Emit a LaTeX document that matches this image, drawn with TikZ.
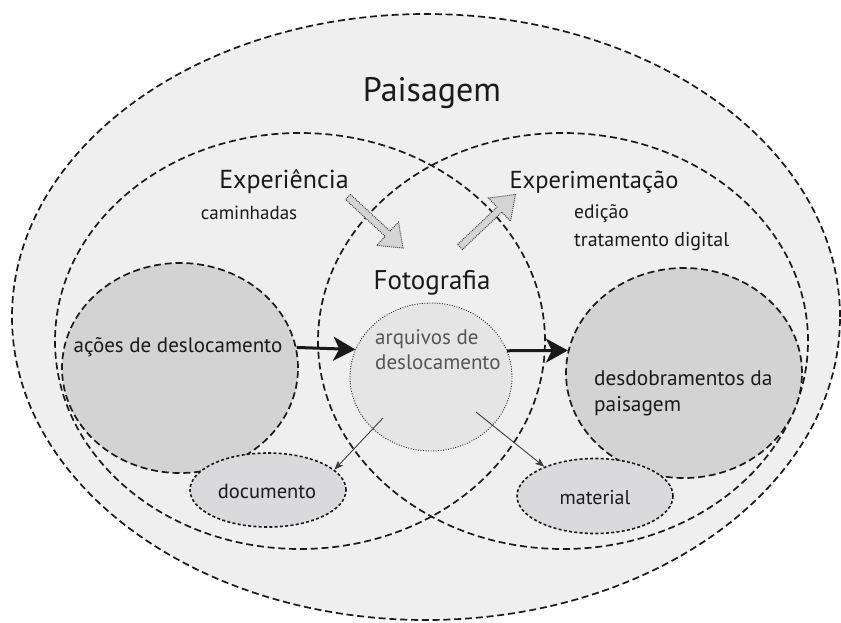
\documentclass[tikz,border=0pt]{standalone}
\usepackage{fontspec}
\setmainfont{PT Sans}
\usetikzlibrary{shapes.geometric,arrows.meta}
\definecolor{bg}{HTML}{EFEFEF}
\definecolor{darkfill}{HTML}{D3D3D3}
\definecolor{midfill}{HTML}{DADADC}
\definecolor{lightfill}{HTML}{E5E5E5}
\definecolor{ink}{HTML}{1A1A1A}
\definecolor{softink}{HTML}{555555}
\definecolor{hatchfill}{HTML}{D4D4D4}
\begin{document}
\begin{tikzpicture}[x=1pt,y=-1pt,
  bigring/.style={ellipse, draw=ink, line width=1.7pt, dash pattern=on 7pt off 3.8pt, inner sep=0pt},
  greyblob/.style={ellipse, draw=ink, fill=darkfill, line width=1.7pt, dash pattern=on 7pt off 3.8pt, inner sep=0pt},
  smallblob/.style={ellipse, draw=ink, fill=midfill, line width=1.6pt, dash pattern=on 3pt off 2.3pt, inner sep=0pt},
  dotring/.style={ellipse, draw=ink, fill=lightfill, line width=0.9pt, dash pattern=on 0.9pt off 1.6pt, inner sep=0pt},
  lbl/.style={inner sep=0pt, text=ink, anchor=base, font=\fontsize{21}{25}\selectfont},
  boldarrow/.style={line width=3pt, draw=ink, -{Stealth[length=22pt,width=24pt,inset=6pt]}},
  thinarrow/.style={line width=0.9pt, draw=ink!85, -{Stealth[length=9pt,width=7pt,inset=2pt]}},
  hatcharrow/.style={fill=hatchfill, draw=ink!80, line width=1pt, dash pattern=on 1pt off 1pt}
]
\fill[white] (0,0) rectangle (841,622);
\useasboundingbox (0,0) rectangle (841,622);

% rings
\node[bigring, fill=bg, minimum width=828pt, minimum height=606pt] (land) at (426,317) {};
\node[bigring, minimum width=490pt, minimum height=416pt] (exper) at (300,341) {};
\node[bigring, minimum width=490pt, minimum height=416pt] (experim) at (563,341) {};

% grey blobs
\node[greyblob, minimum width=236pt, minimum height=210pt] (acoes) at (180,368) {};
\node[greyblob, minimum width=236pt, minimum height=210pt] (desd) at (684,373) {};
\node[dotring, minimum width=162pt, minimum height=148pt] (arq) at (431,377) {};
\node[smallblob, minimum width=156pt, minimum height=74pt] (doc) at (268,490) {};
\node[smallblob, minimum width=156pt, minimum height=75pt] (mat) at (595,496) {};

% texts
\node[lbl, font=\fontsize{34}{36}\selectfont] (tland) at (432,101) {Paisagem};
\node[lbl, font=\fontsize{26}{28}\selectfont] (texper) at (284,188) {Experiência};
\node[lbl, font=\fontsize{24.5}{28}\selectfont] (texperim) at (594,188) {Experimentação};
\node[lbl, font=\fontsize{19}{22}\selectfont] (tcam) at (249,219) {caminhadas};
\node[lbl, font=\fontsize{19.5}{22}\selectfont, anchor=base west] (tedi) at (574,218) {edição};
\node[lbl, font=\fontsize{20}{22}\selectfont, anchor=base west] (ttrat) at (574,246) {tratamento digital};
\node[lbl, font=\fontsize{27}{30}\selectfont] (tfoto) at (432,289) {Fotografia};
\node[lbl] (tacoes) at (178,352) {ações de deslocamento};
\node[lbl, text=softink, anchor=base west] (tarq1) at (375,344) {arquivos de};
\node[lbl, text=softink, anchor=base west] (tarq2) at (375,369) {deslocamento};
\node[lbl, font=\fontsize{21.3}{25}\selectfont, anchor=base west] (tdesd1) at (594,385) {desdobramentos da};
\node[lbl, font=\fontsize{21.3}{25}\selectfont, anchor=base west] (tdesd2) at (594,411) {paisagem};
\node[lbl, font=\fontsize{20.5}{22}\selectfont] (tdoc) at (267,498) {documento};
\node[lbl, font=\fontsize{20}{22}\selectfont] (tmat) at (595,504) {material};

% bold arrows
\draw[boldarrow] (acoes.10) -- (arq.160);
\draw[boldarrow] (arq.19) -- (desd.169);

% thin arrows
\coordinate (s1) at (383,418);
\coordinate (s2) at (476,412);
\draw[thinarrow] (s1) -- (doc.17);
\draw[thinarrow] (s2) -- (mat.150);

% hatched arrows
\draw[hatcharrow] (350.4,194.4) -- (390.0,231.1) -- (398.5,222.0) -- (403,248) -- (376.7,245.4) -- (385.2,236.3) -- (345.6,199.6) -- cycle;
\draw[hatcharrow] (457.6,244.5) -- (497.1,207.1) -- (488.5,198.0) -- (515.5,194.5) -- (510.5,221.2) -- (501.9,212.1) -- (462.4,249.5) -- cycle;
\end{tikzpicture}
\end{document}
